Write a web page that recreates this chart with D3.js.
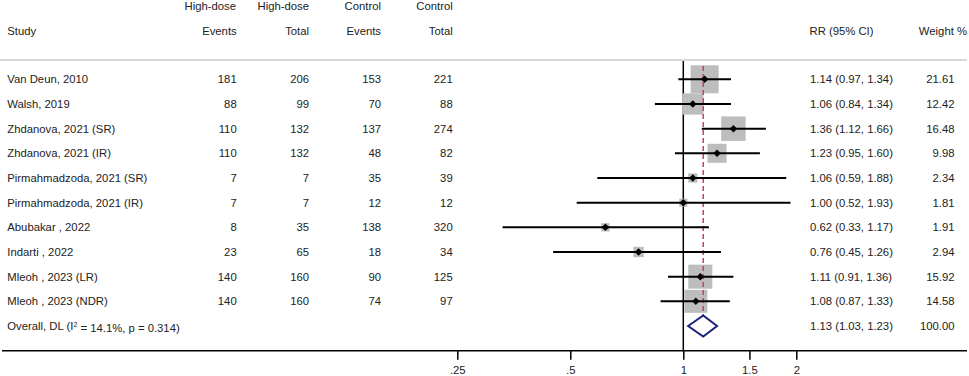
<!DOCTYPE html>
<html lang="en">
  <head>
    <meta charset="UTF-8" />
    <title>forest plot</title>
    <style>
      body { margin: 0; background: #fff; }
      svg text { font-family: "Liberation Sans", Arial, sans-serif; font-size: 11.3px; fill: #222; }
    </style>
  </head>
  <body>
    <svg id="chart"></svg>

    <script src="https://d3js.org/d3.v7.min.js"></script>
    <script>
      // data
      const studies = [
        "Van Deun, 2010", "Walsh, 2019", "Zhdanova, 2021 (SR)", "Zhdanova, 2021 (IR)",
        "Pirmahmadzoda, 2021 (SR)", "Pirmahmadzoda, 2021 (IR)", "Abubakar , 2022",
        "Indarti , 2022", "Mleoh , 2023 (LR)", "Mleoh , 2023 (NDR)"
      ];
      const hdEvents = [181, 88, 110, 110, 7, 7, 8, 23, 140, 140];
      const hdTotal = [206, 99, 132, 132, 7, 7, 35, 65, 160, 160];
      const ctlEvents = [153, 70, 137, 48, 35, 12, 138, 18, 90, 74];
      const ctlTotal = [221, 88, 274, 82, 39, 12, 320, 34, 125, 97];
      const rr = [1.14, 1.06, 1.36, 1.23, 1.06, 1.00, 0.62, 0.76, 1.11, 1.08];
      const lo = [0.97, 0.84, 1.12, 0.95, 0.59, 0.52, 0.33, 0.45, 0.91, 0.87];
      const hi = [1.34, 1.34, 1.66, 1.60, 1.88, 1.93, 1.17, 1.26, 1.36, 1.33];
      const weight = [21.61, 12.42, 16.48, 9.98, 2.34, 1.81, 1.91, 2.94, 15.92, 14.58];
      const overall = { rr: 1.13, lo: 1.03, hi: 1.23, weight: 100.0 };
      const tickVals = [0.25, 0.5, 1, 1.5, 2];
      const tickLabels = [".25", ".5", "1", "1.5", "2"];

      const width = 969, height = 376;
      const svg = d3.select("#chart").attr("width", width).attr("height", height);

      const x = d3.scaleLog().domain([0.25, 2]).range([457.3, 796.3]);
      const y = d3.scaleLinear().domain([0, 10]).range([79.3, 326]);
      const box = d3.scaleSqrt().domain([0, d3.max(weight)]).range([0, 28]);
      const fmt = d3.format(".2f");
      const axisY = 350.7;

      // header
      const head1 = [["High-dose", 236], ["High-dose", 309], ["Control", 381], ["Control", 452.7]];
      const head2 = [["Events", 236.7], ["Total", 309], ["Events", 381], ["Total", 452.7]];
      head1.forEach(d => {
        svg.append("text").attr("x", d[1]).attr("y", 6.5).attr("dy", "0.35em")
          .attr("text-anchor", "end").text(d[0]);
      });
      head2.forEach(d => {
        svg.append("text").attr("x", d[1]).attr("y", 31).attr("dy", "0.35em")
          .attr("text-anchor", "end").text(d[0]);
      });
      svg.append("text").attr("x", 7.3).attr("y", 31).attr("dy", "0.35em").text("Study");
      svg.append("text").attr("x", 809.5).attr("y", 31).attr("dy", "0.35em").text("RR (95% CI)");
      svg.append("text").attr("x", 967).attr("y", 31).attr("dy", "0.35em")
        .attr("text-anchor", "end").text("Weight %");

      svg.append("line")
        .attr("x1", 0).attr("x2", 967).attr("y1", 60).attr("y2", 60)
        .style("stroke", "#c8c8c8").style("stroke-width", 1.4);

      // null line
      svg.append("line")
        .attr("x1", x(1)).attr("x2", x(1)).attr("y1", 61).attr("y2", axisY)
        .style("stroke", "#000").style("stroke-width", 1.5);

      // boxes
      svg.selectAll("rect.box").data(studies).join("rect")
        .attr("class", "box")
        .attr("x", (d, i) => x(rr[i]) - box(weight[i]) / 2)
        .attr("y", (d, i) => y(i) - box(weight[i]) / 2)
        .attr("width", (d, i) => box(weight[i]))
        .attr("height", (d, i) => box(weight[i]))
        .attr("fill", "#bdbdbd");

      // overall estimate line
      svg.append("line")
        .attr("x1", x(overall.rr)).attr("x2", x(overall.rr))
        .attr("y1", 66).attr("y2", 337)
        .style("stroke", "#c9444f").style("stroke-width", 1.5)
        .style("stroke-dasharray", "5,3");

      // CI lines
      svg.selectAll("line.ci").data(studies).join("line")
        .attr("class", "ci")
        .attr("x1", (d, i) => x(lo[i])).attr("x2", (d, i) => x(hi[i]))
        .attr("y1", (d, i) => y(i)).attr("y2", (d, i) => y(i))
        .style("stroke", "#000").style("stroke-width", 2);

      // point estimates
      svg.selectAll("path.pt").data(studies).join("path")
        .attr("class", "pt")
        .attr("d", d3.symbol(d3.symbolSquare, 28))
        .attr("transform", (d, i) => `translate(${x(rr[i])},${y(i)}) rotate(45)`)
        .attr("fill", "#000");

      // overall diamond
      const oy = y(10);
      svg.append("polygon")
        .attr("points", [
          [x(overall.lo), oy], [x(overall.rr), oy - 10.5],
          [x(overall.hi), oy], [x(overall.rr), oy + 10.5]
        ].map(p => p.join(",")).join(" "))
        .attr("fill", "#fff").attr("stroke", "#1c237c").attr("stroke-width", 2);

      // table text
      studies.forEach((s, i) => {
        const g = svg.append("g").attr("transform", `translate(0,${y(i)})`);
        g.append("text").attr("x", 7.3).attr("dy", "0.35em").text(s);
        [[hdEvents[i], 236.7], [hdTotal[i], 309], [ctlEvents[i], 381], [ctlTotal[i], 452.7]].forEach(c => {
          g.append("text").attr("x", c[1]).attr("dy", "0.35em").attr("text-anchor", "end").text(c[0]);
        });
        g.append("text").attr("x", 810).attr("dy", "0.35em")
          .text(`${fmt(rr[i])} (${fmt(lo[i])}, ${fmt(hi[i])})`);
        g.append("text").attr("x", 954.5).attr("dy", "0.35em").attr("text-anchor", "end")
          .text(fmt(weight[i]));
      });

      const og = svg.append("g").attr("transform", `translate(0,${oy})`);
      const ot = og.append("text").attr("x", 7.3).attr("dy", "0.35em");
      ot.append("tspan").text("Overall, DL (I");
      ot.append("tspan").attr("dy", "-0.45em").style("font-size", "7px").text("2");
      ot.append("tspan").attr("dy", "0.45em").text(" = 14.1%, p = 0.314)");
      og.append("text").attr("x", 810).attr("dy", "0.35em")
        .text(`${fmt(overall.rr)} (${fmt(overall.lo)}, ${fmt(overall.hi)})`);
      og.append("text").attr("x", 954.5).attr("dy", "0.35em").attr("text-anchor", "end")
        .text(fmt(overall.weight));

      // axis
      svg.append("line")
        .attr("x1", 2).attr("x2", 967).attr("y1", axisY).attr("y2", axisY)
        .style("stroke", "#000").style("stroke-width", 1.5);

      const axis = svg.append("g")
        .attr("transform", `translate(0,${axisY})`)
        .call(d3.axisBottom(x).tickValues(tickVals).tickSize(9)
          .tickFormat((d, i) => tickLabels[i]));
      axis.select(".domain").remove();
      axis.selectAll(".tick line").style("stroke", "#000").style("stroke-width", 1.5);
      axis.selectAll(".tick text")
        .attr("y", 15).attr("font-family", null).attr("font-size", null);
    </script>
  </body>
</html>
